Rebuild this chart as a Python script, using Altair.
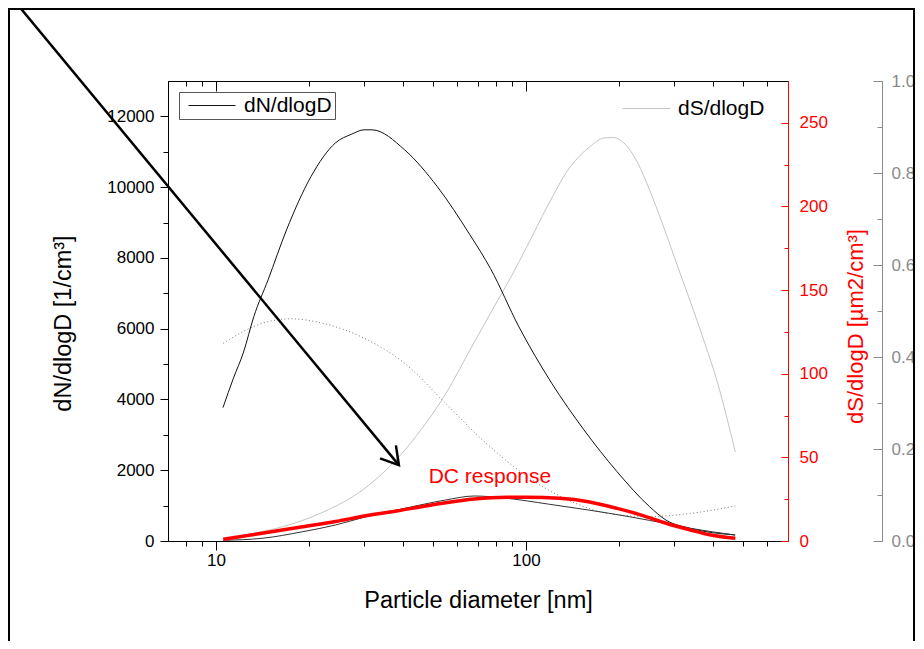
import altair as alt
import pandas as pd

# ---------------- data ----------------
# dN/dlogD  [1/cm3]  (left axis)
dn_d = [10.53, 11.38, 12.27, 13.24, 14.72, 16.88, 20.25, 24.28, 27.42, 30.02, 31.86,
        40.64, 51.78, 65.96, 76.8, 94.9, 121.0, 153.8, 196.6, 250.4, 282.9, 338.0, 472.0]
dn_v = [3770, 4600, 5340, 6340, 7380, 8790, 10300, 11250, 11500, 11620, 11620,
        11050, 10010, 8650, 7700, 6050, 4460, 3140, 1960, 970, 590, 360, 170]

# lower thin black curve (left axis)
low_d = [10.55, 14.07, 19.05, 24.28, 30.02, 40.64, 55.04, 68.05, 86.7, 117.4, 158.9,
         215.2, 291.4, 339.0, 473.3]
low_v = [20, 76, 263, 452, 670, 924, 1159, 1272, 1207, 1046, 876, 687, 472, 359, 170]

# dS/dlogD [um2/cm3] (red axis)
ds_d = [10.55, 12.87, 16.37, 22.17, 30.02, 38.85, 47.3, 55.04, 65.96, 79.15, 89.4, 100.9,
        117.4, 136.6, 158.9, 179.4, 190.7, 208.6, 228.7, 250.4, 274.2, 309.7, 360.3,
        419.3, 473.3]
ds_v = [1.0, 4.2, 8.5, 17.3, 31.1, 50.2, 69.9, 87.9, 114.2, 140.5, 157.8, 176.4,
        200.3, 221.8, 235.0, 241.0, 241.2, 237.3, 226.4, 209.8, 190.7, 163.2, 129.1,
        91.5, 53.2]

# DC response (red, red axis)
dc_d = [10.55, 14.07, 19.05, 24.28, 30.02, 38.23, 47.3, 55.04, 68.05, 86.7, 100.9, 128.5,
        158.9, 196.6, 235.6, 282.9, 339.0, 394.7, 473.3]
dc_v = [1.0, 4.6, 8.5, 11.6, 14.9, 17.9, 20.9, 22.9, 25.1, 26.1, 26.1, 25.5,
        23.5, 19.5, 15.5, 10.6, 6.6, 3.6, 1.6]

# dotted deposition curve (grey 0-1 axis)
dep_d = [10.55, 14.07, 17.4, 22.17, 30.02, 40.64, 55.04, 74.5, 100.9, 136.6, 184.9,
         250.4, 339.0, 473.3]
dep_v = [0.430, 0.473, 0.483, 0.473, 0.441, 0.386, 0.299, 0.212, 0.140, 0.089, 0.060,
         0.053, 0.060, 0.076]

# arrow annotation (data coords on grey axis)
arrow_d = [2.227, 38.9]
arrow_v = [1.176, 0.165]

# DC response label (data coords on red axis)
label_d = [76.5]
label_v = [34.7]
label_t = ["DC response"]

x_major = [10, 100]
x_minor = [8, 9, 20, 30, 40, 50, 60, 70, 80, 90, 200, 300, 400, 500, 600]
left_major = [0, 2000, 4000, 6000, 8000, 10000, 12000]
left_minor = [1000, 3000, 5000, 7000, 9000, 11000]
red_major = [0, 50, 100, 150, 200, 250]
red_minor = [25, 75, 125, 175, 225]
grey_major = [0, 0.2, 0.4, 0.6, 0.8, 1.0]
grey_minor = [0.1, 0.3, 0.5, 0.7, 0.9]

FONT = "Liberation Sans"
W, H = 620, 460
GREY = "#8a8a8a"


def df(d, v, **extra):
    t = pd.DataFrame({"D": d, "v": v})
    for k, val in extra.items():
        t[k] = val
    return t


def X(axis):
    return alt.X("D:Q", scale=alt.Scale(type="log", domain=[7, 700]), axis=axis)


def Y(domain, axis):
    return alt.Y("v:Q", scale=alt.Scale(domain=domain, nice=False), axis=axis)


LEFT = [0, 13000]
RED = [0, 275]
GRY = [0, 1]

# ---------------- axes ----------------
ax_x_bottom = alt.Axis(orient="bottom", values=x_major, format="d", tickSize=9,
                       labelFontSize=17, labelPadding=2, labelColor="black",
                       domainColor="black", tickColor="black",
                       title="Particle diameter [nm]", titleFontSize=23.5,
                       titleFontWeight="normal", titleColor="black",
                       titleX=W / 2, titleY=66, titleAlign="center",
                       titleBaseline="alphabetic")
ax_x_bottom_minor = alt.Axis(orient="bottom", values=x_minor, tickSize=5, labels=False,
                             domainColor="black", tickColor="black", title=None)
ax_x_top = alt.Axis(orient="bottom", offset=-H, values=x_major, tickSize=10, labels=False,
                    domainColor="black", tickColor="black", title=None)
ax_x_top_minor = alt.Axis(orient="bottom", offset=-H, values=x_minor, tickSize=5,
                          labels=False, domainColor="black", tickColor="black", title=None)

ax_left = alt.Axis(orient="left", values=left_major, format="d", tickSize=8,
                   labelFontSize=17, labelPadding=6, labelColor="black",
                   domainColor="black", tickColor="black",
                   title="dN/dlogD [1/cm³]", titleFontSize=23.5, titleFontWeight="normal",
                   titleColor="black", titleAngle=270, titleX=-105, titleY=242,
                   titleAlign="center", titleBaseline="middle")
ax_left_minor = alt.Axis(orient="left", values=left_minor, tickSize=5, labels=False,
                         domainColor="black", tickColor="black", title=None)

ax_red_ticks = alt.Axis(orient="left", offset=-W, values=red_major, tickSize=7, labels=False,
                        domainColor="red", tickColor="red", title=None)
ax_red_minor = alt.Axis(orient="left", offset=-W, values=red_minor, tickSize=4, labels=False,
                        domainColor="red", tickColor="red", title=None)
ax_red_labels = alt.Axis(orient="right", values=red_major, format="d", tickSize=0,
                         domain=False, labelFontSize=17, labelPadding=11, labelColor="red",
                         title="dS/dlogD [µm2/cm³]", titleFontSize=22,
                         titleFontWeight="normal", titleColor="red", titleAngle=270,
                         titleX=67, titleY=245, titleAlign="center",
                         titleBaseline="middle")

ax_grey_ticks = alt.Axis(orient="left", offset=-714, values=grey_major, tickSize=9,
                         labels=False, domainColor=GREY, tickColor=GREY, title=None)
ax_grey_minor = alt.Axis(orient="left", offset=-714, values=grey_minor, tickSize=5,
                         labels=False, domainColor=GREY, tickColor=GREY, title=None)
ax_grey_labels = alt.Axis(orient="right", offset=94, values=grey_major, format=".1f",
                          tickSize=0, domain=False, labelFontSize=17, labelPadding=9,
                          labelColor=GREY, title=None)

# ---------------- layers ----------------
frame = alt.Chart(pd.DataFrame({"a": [0]})).mark_rect(
    fill="transparent", stroke="black", strokeWidth=2
).encode(x=alt.value(-159), x2=alt.value(746), y=alt.value(-72), y2=alt.value(620))

dep_line = alt.Chart(df(dep_d, dep_v)).mark_line(
    color="#777777", strokeWidth=1, strokeDash=[1, 2.5], interpolate="monotone"
).encode(x=X(None), y=Y(GRY, ax_grey_ticks))

ds_line = alt.Chart(df(ds_d, ds_v, series="dS/dlogD")).mark_line(
    strokeWidth=1, interpolate="monotone"
).encode(
    x=X(ax_x_top), y=Y(RED, ax_red_ticks),
    color=alt.Color("series:N", scale=alt.Scale(domain=["dS/dlogD"], range=["#c4c4c4"]),
                    legend=alt.Legend(title=None, orient="none", legendX=454, legendY=17,
                                      padding=0, symbolType="stroke", symbolSize=2304,
                                      symbolStrokeWidth=1, labelFontSize=21, labelOffset=7,
                                      clipHeight=21, labelColor="black", labelFont=FONT)),
)

dn_line = alt.Chart(df(dn_d, dn_v, series="dN/dlogD")).mark_line(
    strokeWidth=1, interpolate="monotone"
).encode(
    x=X(ax_x_bottom), y=Y(LEFT, ax_left),
    color=alt.Color("series:N", scale=alt.Scale(domain=["dN/dlogD"], range=["#111111"]),
                    legend=alt.Legend(title=None, orient="none", legendX=11, legendY=11,
                                      padding=3, symbolOffset=6, strokeColor="#555555",
                                      fillColor="white", symbolType="stroke",
                                      symbolSize=2209, symbolStrokeWidth=1,
                                      labelFontSize=21, labelOffset=8, clipHeight=21,
                                      labelColor="black", labelFont=FONT)),
)

low_line = alt.Chart(df(low_d, low_v)).mark_line(
    color="#333333", strokeWidth=1, interpolate="monotone"
).encode(x=X(ax_x_bottom_minor), y=Y(LEFT, ax_left_minor))

dc_line = alt.Chart(df(dc_d, dc_v)).mark_line(
    color="#ff0000", strokeWidth=3.5, interpolate="monotone"
).encode(x=X(ax_x_top_minor), y=Y(RED, ax_red_minor))

dc_text = alt.Chart(pd.DataFrame({"D": label_d, "v": label_v, "t": label_t})).mark_text(
    color="#ff0000", fontSize=21, font=FONT, align="center", baseline="alphabetic"
).encode(x=X(None), y=Y(RED, ax_red_labels), text="t:N")

arrow_line = alt.Chart(df(arrow_d, arrow_v)).mark_line(
    color="black", strokeWidth=2.5
).encode(x=X(None), y=Y(GRY, ax_grey_minor))

arrow_head = alt.Chart(df(arrow_d[1:], arrow_v[1:])).mark_point(
    shape="M -1 -0.6 L 0 0 L -1 0.6", filled=False, stroke="black", strokeWidth=2.5,
    size=1177, angle=50.4, opacity=1
).encode(x=X(None), y=Y(GRY, ax_grey_labels))

chart = alt.layer(
    frame, dep_line, ds_line, dn_line, low_line, dc_line, dc_text, arrow_line, arrow_head
).resolve_scale(
    x="independent", y="independent", color="independent"
).properties(
    width=W, height=H,
    autosize=alt.AutoSizeParams(type="none"),
    padding={"left": 160, "top": 73, "right": 128, "bottom": 100},
).configure(
    font=FONT
).configure_view(
    strokeWidth=0
).configure_axis(
    grid=False, labelFont=FONT, titleFont=FONT, tickWidth=1, domainWidth=1
)

chart.save("out.html", embed_options={"renderer": "svg", "actions": False})
